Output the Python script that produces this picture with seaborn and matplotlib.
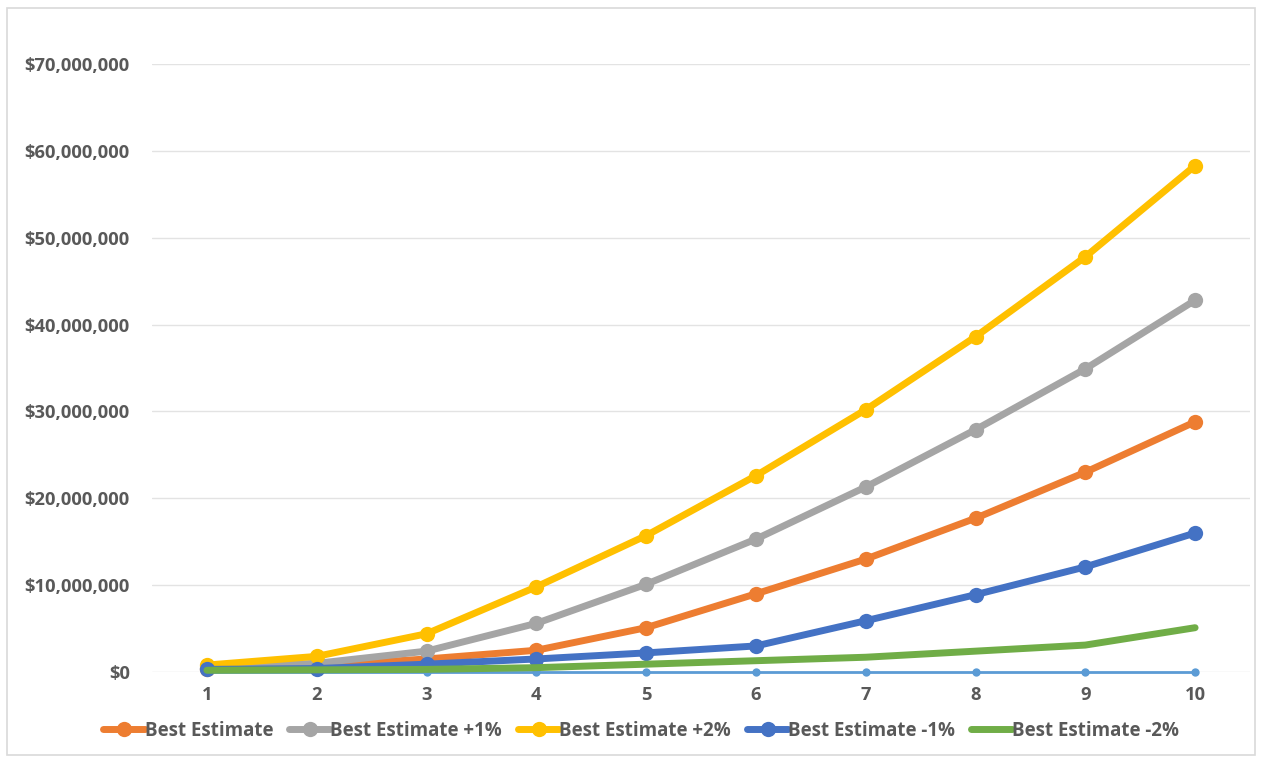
import matplotlib
matplotlib.use("Agg")
import matplotlib.pyplot as plt
from matplotlib.patches import Rectangle
from matplotlib.ticker import FuncFormatter
import pandas as pd
import seaborn as sns

years = [1, 2, 3, 4, 5, 6, 7, 8, 9, 10]

best_estimate = [0.3e6, 0.7e6, 1.5e6, 2.5e6, 5.1e6, 9.0e6, 13.0e6, 17.7e6, 23.0e6, 28.8e6]
best_plus_1 = [0.5e6, 1.0e6, 2.4e6, 5.6e6, 10.1e6, 15.3e6, 21.3e6, 27.9e6, 34.9e6, 42.8e6]
best_plus_2 = [0.8e6, 1.8e6, 4.4e6, 9.8e6, 15.7e6, 22.6e6, 30.2e6, 38.6e6, 47.8e6, 58.3e6]
best_minus_1 = [0.3e6, 0.4e6, 0.9e6, 1.5e6, 2.2e6, 3.0e6, 5.9e6, 8.9e6, 12.1e6, 16.0e6]
best_minus_2 = [0.2e6, 0.25e6, 0.3e6, 0.5e6, 0.9e6, 1.3e6, 1.7e6, 2.4e6, 3.1e6, 5.1e6]
baseline = [0, 0, 0, 0, 0, 0, 0, 0, 0, 0]

series_names = ["Best Estimate", "Best Estimate +1%", "Best Estimate +2%",
                "Best Estimate -1%", "Best Estimate -2%"]
series_values = [best_estimate, best_plus_1, best_plus_2, best_minus_1, best_minus_2]
colors = ["#ED7D31", "#A5A5A5", "#FFC000", "#4472C4", "#70AD47"]
markers = ["o", "o", "o", "o", None]

sns.set_style("white")
plt.rcParams["font.family"] = ["Open Sans", "DejaVu Sans"]
text_color = "#595959"

fig = plt.figure(figsize=(12.65, 7.58), dpi=100)
ax = fig.add_axes([152 / 1265, 1 - 672 / 758, (1250 - 152) / 1265, (672 - 64) / 758])

# chart border
fig.patches.append(Rectangle((7 / 1265, 3 / 758), 1248 / 1265, 747 / 758,
                             transform=fig.transFigure, fill=False,
                             edgecolor="#D9D9D9", linewidth=1.2))

# thin series along zero
df0 = pd.DataFrame({"year": years, "value": baseline})
sns.lineplot(data=df0, x="year", y="value", ax=ax, color="#5B9BD5", linewidth=2,
             marker="o", markersize=6, markeredgewidth=0, zorder=2, legend=False)
ax.lines[-1].set_clip_on(False)

handles = []
for name, vals, col, mk in zip(series_names, series_values, colors, markers):
    df = pd.DataFrame({"year": years, "value": vals})
    sns.lineplot(data=df, x="year", y="value", ax=ax, color=col, linewidth=5,
                 marker=mk, markersize=11, markeredgewidth=0, zorder=3, legend=False)
    ax.lines[-1].set_clip_on(False)
    handles.append(ax.lines[-1])

ax.set_xlim(0.5, 10.5)
ax.set_ylim(0, 70e6)
ax.set_xticks(years)
ax.set_yticks(range(0, 70000001, 10000000))
ax.yaxis.set_major_formatter(FuncFormatter(lambda v, p: f"${v:,.0f}"))
ax.grid(axis="y", color="#E3E3E3", linewidth=1)
ax.set_axisbelow(True)
for s in ax.spines.values():
    s.set_visible(False)
ax.tick_params(axis="both", length=0, labelsize=13.2, labelcolor=text_color)
ax.tick_params(axis="y", pad=16)
ax.tick_params(axis="x", pad=10)
for lbl in ax.get_xticklabels() + ax.get_yticklabels():
    lbl.set_fontweight("bold")
ax.set_xlabel("")
ax.set_ylabel("")

leg = fig.legend(handles, series_names, loc="center", bbox_to_anchor=(0.507, 1 - 731 / 758),
                 ncol=5, frameon=False, handlelength=2.2, handletextpad=0.0,
                 columnspacing=0.85, prop={"weight": "bold", "size": 13.5})
for t in leg.get_texts():
    t.set_color(text_color)

fig.savefig("out.png", dpi=100)
